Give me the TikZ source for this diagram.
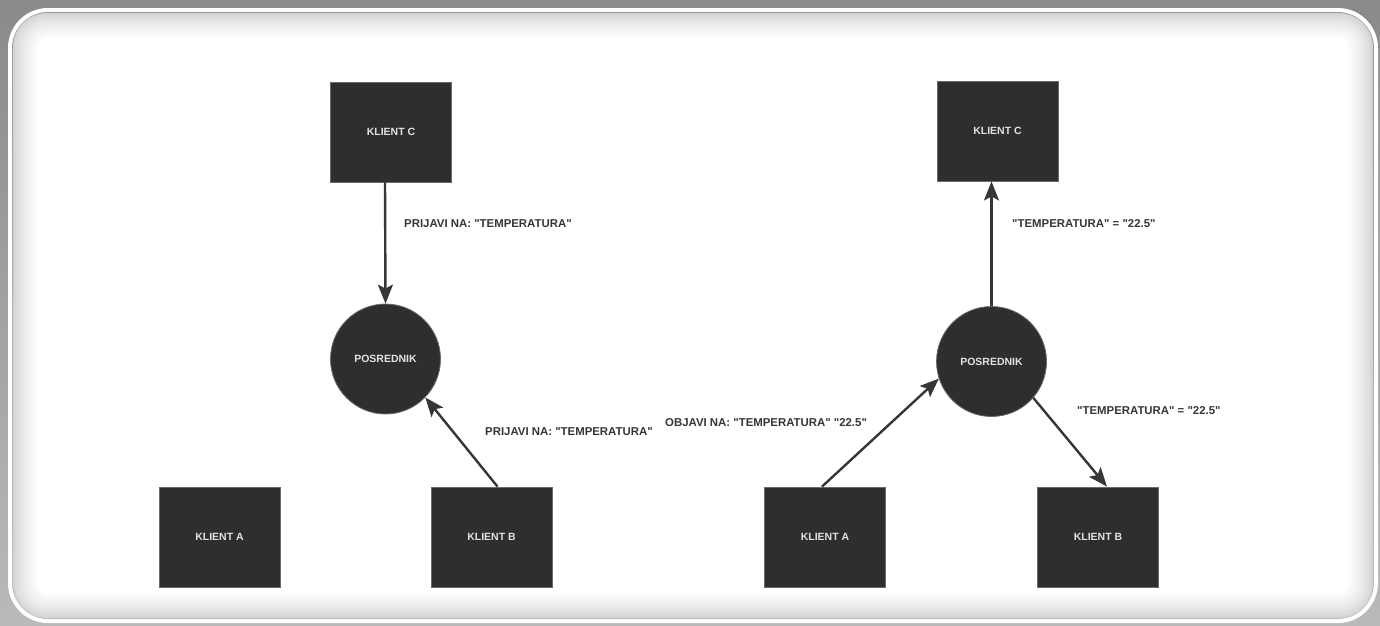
\documentclass[tikz,border=0pt]{standalone}
\usepackage{fontspec}
\newfontfamily\plainsans{Liberation Sans}
\usetikzlibrary{arrows.meta}
\definecolor{framegray}{HTML}{9C9C9C}
\definecolor{framedark}{HTML}{8A8A8A}
\definecolor{shadowgray}{HTML}{D2D2D2}
\definecolor{boxfill}{HTML}{2E2E2E}
\definecolor{boxline}{HTML}{6A6A6A}
\definecolor{nodetext}{HTML}{E2E2E2}
\definecolor{inkgray}{HTML}{363636}
\tikzset{
  client/.style={rectangle, fill=boxfill, draw=boxline, line width=0.8pt,
    minimum width=121pt, minimum height=100pt, inner sep=0pt,
    text=nodetext, font=\plainsans\bfseries\fontsize{10.5}{12}\selectfont},
  broker/.style={circle, fill=boxfill, draw=boxline, line width=0.8pt,
    minimum size=110pt, inner sep=0pt,
    text=nodetext, font=\plainsans\bfseries\fontsize{10.5}{12}\selectfont},
  flow/.style={draw=inkgray, line width=2.4pt,
    -{Stealth[length=19pt,width=15pt,inset=4pt]}},
  msg/.style={anchor=west, inner sep=0pt, text=inkgray,
    font=\plainsans\bfseries\fontsize{11.4}{13}\selectfont},
}
\begin{document}
\begin{tikzpicture}[x=1pt,y=-1pt]
\useasboundingbox (0,0) rectangle (1380,625);

% grey surround
\shade[top color=framedark, bottom color=framegray!70] (0,0) rectangle (1380,625);

% rounded panel with a soft inner shadow
\foreach \i in {0,...,18}{
  \pgfmathtruncatemacro\p{100*(\i/18)^0.7}
  \pgfmathsetmacro\d{3+1.4*\i}
  \pgfmathsetmacro\r{max(37-\d,8)}
  \fill[white!\p!shadowgray, rounded corners=\r pt]
    (10+\d,10+\d) rectangle (1376-\d,621-\d);
}
\draw[white, line width=4pt, rounded corners=38pt] (10,10) rectangle (1376,621);

% subscribe phase
\node[client] (lC) at (391,132) {KLIENT C};
\node[broker] (lP) at (385.5,359) {POSREDNIK};
\node[client] (lA) at (219.5,537) {KLIENT A};
\node[client] (lB) at (491.5,537) {KLIENT B};

\draw[flow] ([xshift=-6pt]lC.south) -- (lP.north);
\draw[flow] ([xshift=6pt]lB.north) -- (lP.-44);

\node[msg] (lm1) at (404,224) {PRIJAVI NA: "TEMPERATURA"};
\node[msg] (lm2) at (485,432) {PRIJAVI NA: "TEMPERATURA"};

% publish phase
\node[client] (rC) at (997.5,131) {KLIENT C};
\node[broker] (rP) at (991.5,361.5) {POSREDNIK};
\node[client] (rA) at (825,537) {KLIENT A};
\node[client] (rB) at (1098,537) {KLIENT B};

\draw[flow] ([xshift=-3pt]rA.north) -- (rP.198);
\draw[flow] (rP.north) -- ([xshift=-6pt]rC.south);
\draw[flow] (rP.-41) -- ([xshift=9pt]rB.north);

\node[msg] (rm1) at (665,423) {OBJAVI NA: "TEMPERATURA" "22.5"};
\node[msg] (rm2) at (1012,224) {"TEMPERATURA" = "22.5"};
\node[msg] (rm3) at (1077,411) {"TEMPERATURA" = "22.5"};
\end{tikzpicture}
\end{document}
